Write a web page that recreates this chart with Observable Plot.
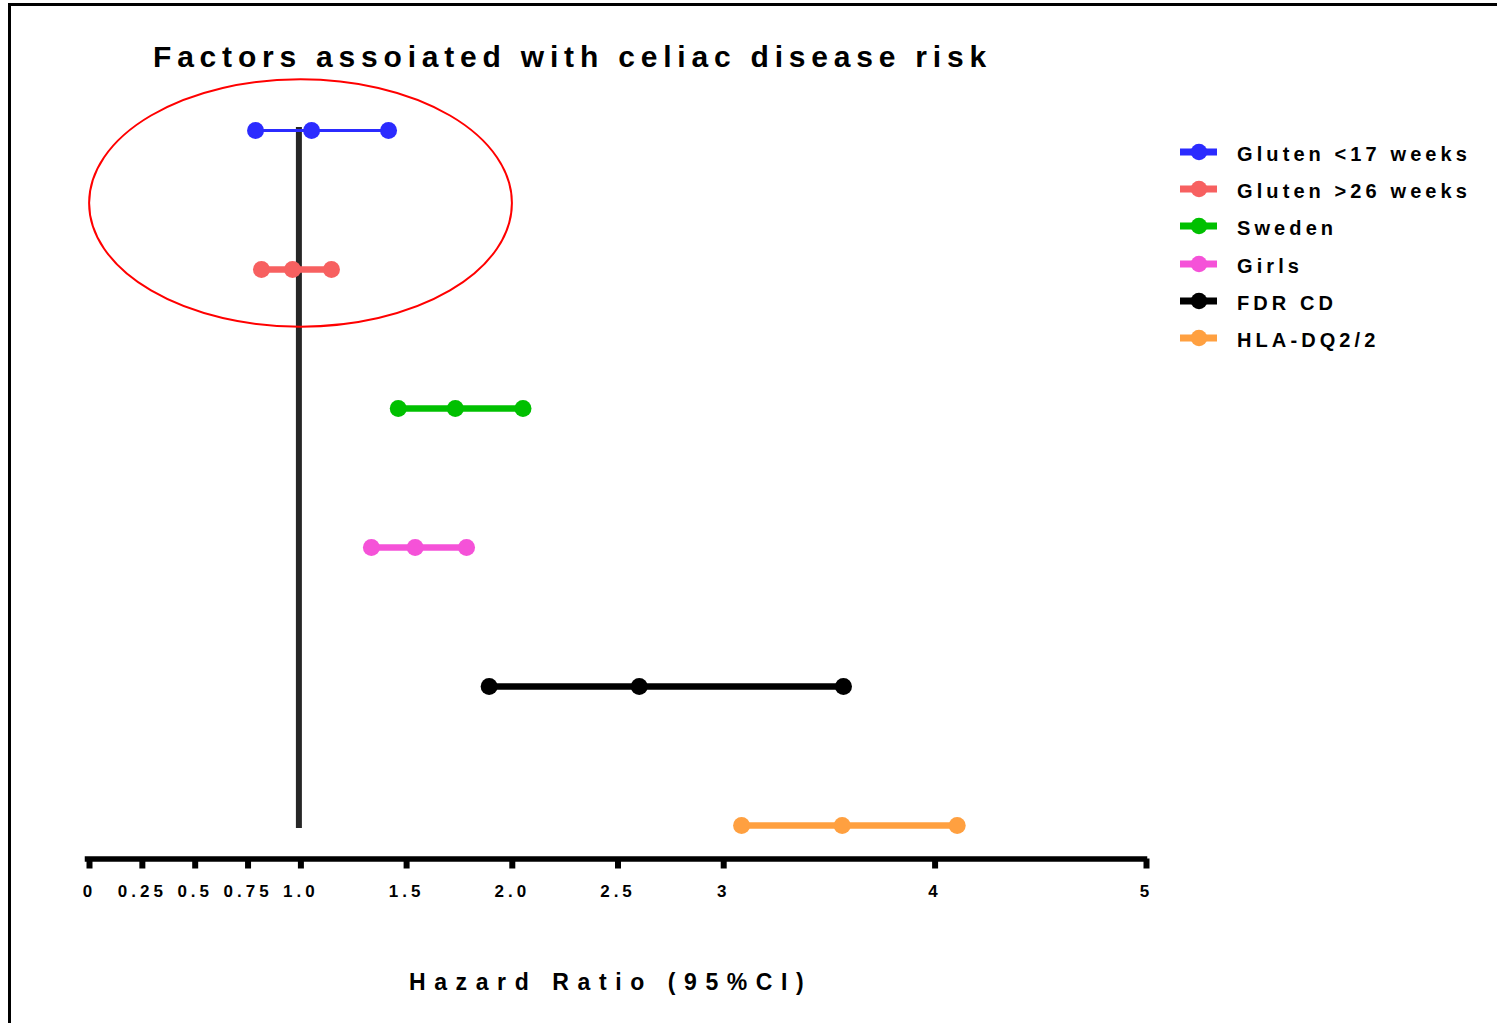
<!DOCTYPE html>
<html>
<head>
<meta charset="utf-8">
<script src="https://cdn.jsdelivr.net/npm/d3@7"></script>
<script src="https://cdn.jsdelivr.net/npm/@observablehq/plot@0.6"></script>
<style>
  body { margin: 0; background: #fff; font-family: "Liberation Sans", Arial, sans-serif; }
  #page { position: relative; width: 1497px; height: 1023px; overflow: hidden; background: #fff; }
  #border { position: absolute; left: 8px; top: 3px; width: 1600px; height: 1100px;
            border-top: 3px solid #000; border-left: 3px solid #000; }
  #title { position: absolute; left: 153px; top: 41.5px; font-size: 30px; line-height: 30px;
           font-weight: bold; letter-spacing: 5.8px; white-space: nowrap; color: #000; }
  #chart { position: absolute; left: 0; top: 60px; }
  #chart svg { overflow: visible; }
  #xlabel { position: absolute; left: 409px; top: 971px; font-size: 23px; line-height: 23px;
            font-weight: bold; letter-spacing: 8.6px; white-space: nowrap; color: #000; }
  #legend { position: absolute; left: 1180px; top: 133.4px; }
  .row { display: flex; align-items: center; height: 37.2px; }
  .row svg { display: block; flex: none; }
  .row span { margin-left: 19px; font-size: 20px; line-height: 20px; font-weight: bold;
              letter-spacing: 4.1px; white-space: nowrap; position: relative; top: 2px; color: #000; }
  #chart g[aria-label="x-axis tick label"] text { font-weight: bold; font-size: 17px; letter-spacing: 4px; }
</style>
</head>
<body>
<div id="page">
  <div id="border"></div>
  <div id="title">Factors assoiated with celiac disease risk</div>
  <div id="chart"></div>
  <div id="xlabel">Hazard Ratio (95%CI)</div>
  <div id="legend"></div>
</div>
<script>
// Factors and their hazard ratios with 95% confidence limits
const factors = ["Gluten <17 weeks", "Gluten >26 weeks", "Sweden", "Girls", "FDR CD", "HLA-DQ2/2"];
const hazardRatio = [1.06, 0.97, 1.74, 1.55, 2.61, 3.57];
const ciLower = [0.795, 0.823, 1.47, 1.343, 1.90, 3.094];
const ciUpper = [1.424, 1.154, 2.06, 1.793, 3.576, 4.114];

// Axis ticks and their printed labels
const tickValues = [0, 0.25, 0.5, 0.75, 1.0, 1.5, 2.0, 2.5, 3, 4, 5];
const tickLabels = ["0", "0.25", "0.5", "0.75", "1.0", "1.5", "2.0", "2.5", "3", "4", "5"];

// Series colours
const factorColors = ["#2b2bff", "#f76060", "#00c000", "#f552d8", "#000000", "#ffa040"];

// Reference line for no effect
const referenceHR = 1;

// Highlight ring around the gluten-timing factors (HR units for width, row units for height)
const ring = {rows: [0, 1], centerHR: 1.01, halfWidthHR: 1.0, centerRow: 0.525, halfHeightRows: 0.89};

const rows = factors.map((name, i) => ({name, hr: hazardRatio[i], lo: ciLower[i], hi: ciUpper[i]}));
const points = rows.flatMap(d => [
  {name: d.name, x: d.lo},
  {name: d.name, x: d.hr},
  {name: d.name, x: d.hi}
]);

function ringMark(index, scales) {
  const x = scales.x, y = scales.y;
  const y0 = y(factors[ring.rows[0]]), y1 = y(factors[ring.rows[1]]);
  const step = y1 - y0;
  const cx = x(ring.centerHR);
  const rx = x(ring.centerHR + ring.halfWidthHR) - cx;
  const cy = y0 + ring.centerRow * step;
  const ry = ring.halfHeightRows * step;
  const el = document.createElementNS("http://www.w3.org/2000/svg", "ellipse");
  el.setAttribute("cx", cx);
  el.setAttribute("cy", cy);
  el.setAttribute("rx", rx);
  el.setAttribute("ry", ry);
  el.setAttribute("fill", "none");
  el.setAttribute("stroke", "#ff0000");
  el.setAttribute("stroke-width", 2);
  return el;
}

const chart = Plot.plot({
  width: 1200,
  height: 860,
  marginLeft: 87,
  marginRight: 56,
  marginTop: 70,
  marginBottom: 61.5,
  style: {fontFamily: "'Liberation Sans', Arial, sans-serif", background: "transparent", color: "#000"},
  x: {domain: [0, 5], label: null},
  y: {type: "point", domain: factors, range: [70, 765], padding: 0, axis: null},
  color: {domain: factors, range: factorColors},
  marks: [
    Plot.ruleX([referenceHR], {
      y1: () => factors[0],
      y2: () => factors[factors.length - 1],
      stroke: "#262626", strokeWidth: 6, strokeLinecap: "square"
    }),
    Plot.ruleY(rows.filter((d, i) => i === 0), {y: "name", x1: "lo", x2: "hi", stroke: "name", strokeWidth: 3}),
    Plot.ruleY(rows.filter((d, i) => i > 0), {y: "name", x1: "lo", x2: "hi", stroke: "name", strokeWidth: 6.5}),
    Plot.dot(points, {x: "x", y: "name", fill: "name", r: 8.5}),
    Plot.frame({anchor: "bottom", strokeWidth: 5.5, strokeLinecap: "square"}),
    Plot.axisX({ticks: tickValues, tickFormat: (d) => tickLabels[tickValues.indexOf(d)],
      tickSize: 10, tickPadding: 16, strokeWidth: 6, dx: 2, label: null}),
    ringMark
  ]
});
document.getElementById("chart").appendChild(chart);

// Legend: line-and-dot swatch per factor
const legend = document.getElementById("legend");
factors.forEach((name, i) => {
  const row = document.createElement("div");
  row.className = "row";
  row.innerHTML =
    `<svg width="38" height="20"><line x1="0" x2="37" y1="10" y2="10" stroke="${factorColors[i]}" stroke-width="7"/>` +
    `<circle cx="19" cy="10" r="8.3" fill="${factorColors[i]}"/></svg><span>${name.replace(/</g, "&lt;").replace(/>/g, "&gt;")}</span>`;
  legend.appendChild(row);
});
</script>
</body>
</html>
